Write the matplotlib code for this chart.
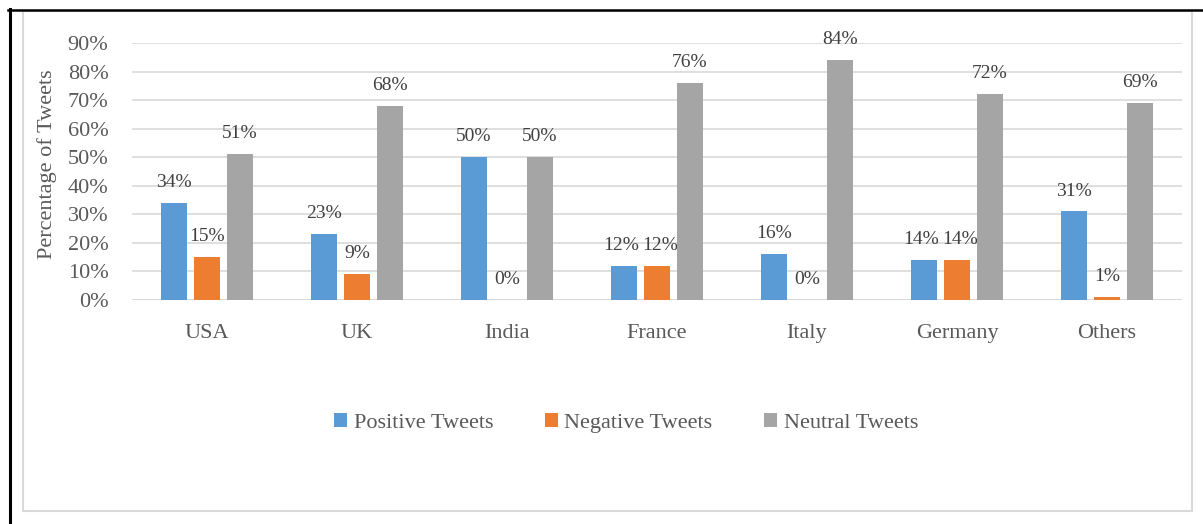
import numpy as np
import matplotlib
matplotlib.use("Agg")
import matplotlib.pyplot as plt
from matplotlib.patches import Rectangle
from matplotlib.lines import Line2D

countries = ["USA", "UK", "India", "France", "Italy", "Germany", "Others"]
positive = [34, 23, 50, 12, 16, 14, 31]
negative = [15, 9, 0, 12, 0, 14, 1]
neutral = [51, 68, 50, 76, 84, 72, 69]
series_names = ["Positive Tweets", "Negative Tweets", "Neutral Tweets"]
colors = ["#5B9BD5", "#ED7D31", "#A5A5A5"]
yticks = [0, 10, 20, 30, 40, 50, 60, 70, 80, 90]

plt.rcParams["font.family"] = ["Liberation Serif", "DejaVu Serif"]
text_color = "#595959"
fs = 16
label_fs = 14

W, H = 1203, 524
fig = plt.figure(figsize=(W / 100, H / 100), dpi=100)

# page frame and chart border (figure pixel coordinates)
def px(x, y):
    return x / W, 1 - y / H

frame = Rectangle(px(23, 511), (1192 - 23) / W, (511 - 11) / H,
                  transform=fig.transFigure, fill=False,
                  edgecolor="#D9D9D9", linewidth=1.5)
fig.patches.append(frame)
fig.lines.append(Line2D([8 / W, 1.0], [1 - 9.5 / H, 1 - 9.5 / H],
                        transform=fig.transFigure, color="black", linewidth=1.8))
fig.lines.append(Line2D([9.5 / W, 9.5 / W], [1 - 9 / H, 0.0],
                        transform=fig.transFigure, color="black", linewidth=2.2))

left, right = 132 / W, 1182 / W
bottom, top = 1 - 300 / H, 1 - 43 / H
ax = fig.add_axes([left, bottom, right - left, top - bottom])

x = np.arange(len(countries))
bw = 26 / 150
step = 33 / 150
all_vals = [positive, negative, neutral]
for i, (vals, c, name) in enumerate(zip(all_vals, colors, series_names)):
    pos = x + (i - 1) * step
    ax.bar(pos, vals, width=bw, color=c, label=name, zorder=3)
    for k, (xp, v) in enumerate(zip(pos, vals)):
        # push neighbouring positive/negative labels apart when they sit level
        dx = 0
        if i < 2 and abs(positive[k] - negative[k]) < 3:
            dx = -2 if i == 0 else 2
        ax.annotate(f"{v}%", (xp, v), xytext=(dx, 11.5), textcoords="offset points",
                    ha="center", va="baseline", fontsize=label_fs, color="#404040")

ax.set_xlim(-0.5, len(countries) - 0.5)
ax.set_ylim(0, 90)
ax.set_yticks(yticks)
ax.set_yticklabels([f"{t}%" for t in yticks])
ax.set_xticks(x)
ax.set_xticklabels(countries)
ax.tick_params(axis="both", length=0, labelsize=fs, labelcolor=text_color)
ax.tick_params(axis="y", pad=17)
ax.tick_params(axis="x", pad=17)
ax.yaxis.grid(True, color="#D9D9D9", linewidth=1.2, zorder=0)
ax.set_axisbelow(True)
for s in ax.spines.values():
    s.set_visible(False)
ax.axhline(0, color="#D9D9D9", linewidth=1.2, zorder=1)

ax.set_ylabel("Percentage of Tweets", fontsize=fs, color=text_color)
ax.yaxis.set_label_coords(-0.0715, 0.53)

handles, labels = ax.get_legend_handles_labels()
leg = fig.legend(handles, labels, loc="center", bbox_to_anchor=(626 / W, 1 - 423 / H),
                 ncol=3, frameon=False, fontsize=fs, handlelength=0.6, handleheight=0.6,
                 handletextpad=0.3, columnspacing=2.3)
for t in leg.get_texts():
    t.set_color(text_color)

fig.savefig("out.png", dpi=100)
